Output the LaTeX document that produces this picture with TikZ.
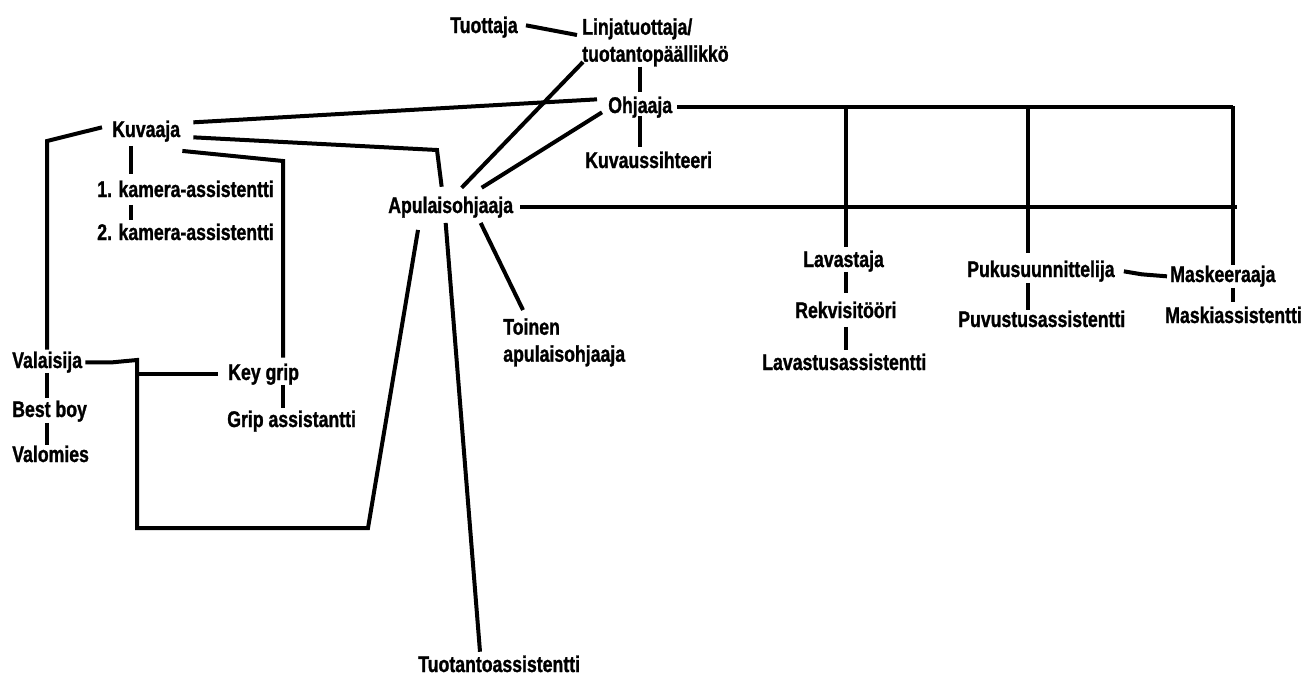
\documentclass[tikz,border=0pt]{standalone}
\usepackage{fontspec}
\newfontfamily\lblfont[FakeStretch=0.78,BoldFeatures={FakeBold=1.2}]{Liberation Sans}
\usetikzlibrary{calc}
\begin{document}
\begin{tikzpicture}[x=0.75pt,y=0.75pt,yscale=-1,
  rolefont/.style={font=\lblfont\bfseries\fontsize{17}{20.25}\selectfont,inner sep=0pt},
  role/.style={rolefont,text height=12pt,text depth=3.5pt,anchor=base west},
  roles/.style={rolefont,align=left,anchor=north west},
  wire/.style={line width=3pt}]
\useasboundingbox (0,0) rectangle (1314,675);

%Shape: Roles
\node[role] (tuo) at (450,33) {Tuottaja};
\node[roles] (lin) at (582,18) {Linjatuottaja/\\tuotantopäällikkö};
\node[role] (ohj) at (608,113) {Ohjaaja};
\node[role] (kus) at (585,168) {Kuvaussihteeri};
\node[role] (kuv) at (112,137) {Kuvaaja};
\node[role] (ka1) at (97,197) {1. kamera-assistentti};
\node[role] (ka2) at (97,240) {2. kamera-assistentti};
\node[role] (apu) at (388,213) {Apulaisohjaaja};
\node[role] (val) at (12,368) {Valaisija};
\node[role] (bes) at (12,417) {Best boy};
\node[role] (vlm) at (12,462) {Valomies};
\node[role] (key) at (228,380) {Key grip};
\node[role] (gri) at (227,427) {Grip assistantti};
\node[roles] (toi) at (503,318) {Toinen\\apulaisohjaaja};
\node[role] (tas) at (418,672) {Tuotantoassistentti};
\node[role] (lav) at (803,267) {Lavastaja};
\node[role] (rek) at (795,318) {Rekvisitööri};
\node[role] (las) at (762,370) {Lavastusassistentti};
\node[role] (puk) at (967,277) {Pukusuunnittelija};
\node[role] (puv) at (958,327) {Puvustusassistentti};
\node[role] (mas) at (1170,282) {Maskeeraaja};
\node[role] (mks) at (1165,323) {Maskiassistentti};

%Bends
\coordinate (tr) at (1233,106);
\coordinate (br) at (1237,208);
\coordinate (lx) at ($(lav.north west)+(43,0)$);
\coordinate (px) at ($(puk.north west)+(61,0)$);
\coordinate (ka) at (437,150);
\coordinate (kb) at (283,161);
\coordinate (kc) at (47,141);
\coordinate (kd) at (137,360);
\coordinate (ke) at (137,528);
\coordinate (kf) at (368,528);

%Straight Lines: production
\draw[wire] ($(tuo.east)+(8,-2)$) -- ($(lin.north west)+(-5,17)$);
\draw[wire] (ohj.north |- lin.south) -- ($(ohj.north)+(0,-5)$);
\draw[wire] ($(ohj.south)+(0,-2)$) -- ($(ohj.south |- kus.north)+(0,-5)$);
%Straight Lines: frame
\draw[wire] ($(ohj.east)+(5,0)$) -- (ohj.east -| tr) -- (tr) -- ($(tr |- mas.north)+(0,-1)$);
\draw[wire] ($(apu.east)+(7,0)$) -- (apu.east -| br);
\draw[wire] (lx |- tr) -- ($(lx)+(0,-4)$);
\draw[wire] (px |- tr) -- ($(px)+(0,-8)$);
%Straight Lines: camera
\draw[wire] ($(kuv.east)+(13,-9)$) -- ($(ohj.west)+(-11,-8)$);
\draw[wire] ($(kuv.east)+(13,6)$) -- (ka) -- ($(apu.north)+(-9,-10)$);
\draw[wire] ($(kuv.south east)+(2,9)$) -- (kb) -- ($(kb |- key.north)+(0,-6)$);
\draw[wire] (kb |- key.south) -- ($(kb |- gri.north)+(0,-3)$);
\draw[wire] ($(kuv.south west)+(19,4)$) -- ($(ka1.north west)+(34,-7)$);
\draw[wire] ($(ka1.south west)+(34,3)$) -- ($(ka2.north west)+(34,-4)$);
%Straight Lines: light
\draw[wire] ($(kuv.west)+(-10,-4)$) -- (kc) -- ($(kc |- val.north)+(0,-2)$);
\draw[wire] ($(val.south west)+(35,0)$) -- ($(bes.north west)+(35,-3)$);
\draw[wire] ($(bes.south west)+(35,1)$) -- ($(vlm.north west)+(35,-1)$);
\draw[wire] ($(val.east)+(3,0)$) -- ++(27,0) -- (kd) -- (ke) -- (kf) -- ($(apu.south west)+(30,12)$);
\draw[wire] (kd |- key.west) -- ($(key.west)+(-10,0)$);
%Straight Lines: assistants
\draw[wire] ($(apu.north)+(11,-9)$) -- ($(lin.north west)+(1,44)$);
\draw[wire] ($(apu.north)+(31,-9)$) -- ($(ohj.west)+(-6,5)$);
\draw[wire] ($(apu.south)+(-5,5)$) -- ($(tas.north west)+(62,-4)$);
\draw[wire] ($(apu.south)+(30,5)$) -- ($(toi.north west)+(20,-8)$);
%Straight Lines: set and costume
\draw[wire] ($(lav.south west)+(43,0)$) -- ($(rek.north west)+(51,-9)$);
\draw[wire] ($(rek.south west)+(51,4)$) -- ($(las.north west)+(84,-4)$);
\draw[wire] ($(puk.south west)+(61,1)$) -- ($(puv.north west)+(70,-1)$);
\draw[wire] ($(puk.east)+(9,0)$) -- ++(18,3) -- ($(mas.west)+(-3,0)$);
\draw[wire] ($(mas.south west)+(63,1)$) -- ($(mks.north west)+(68,-5)$);

\end{tikzpicture}
\end{document}
